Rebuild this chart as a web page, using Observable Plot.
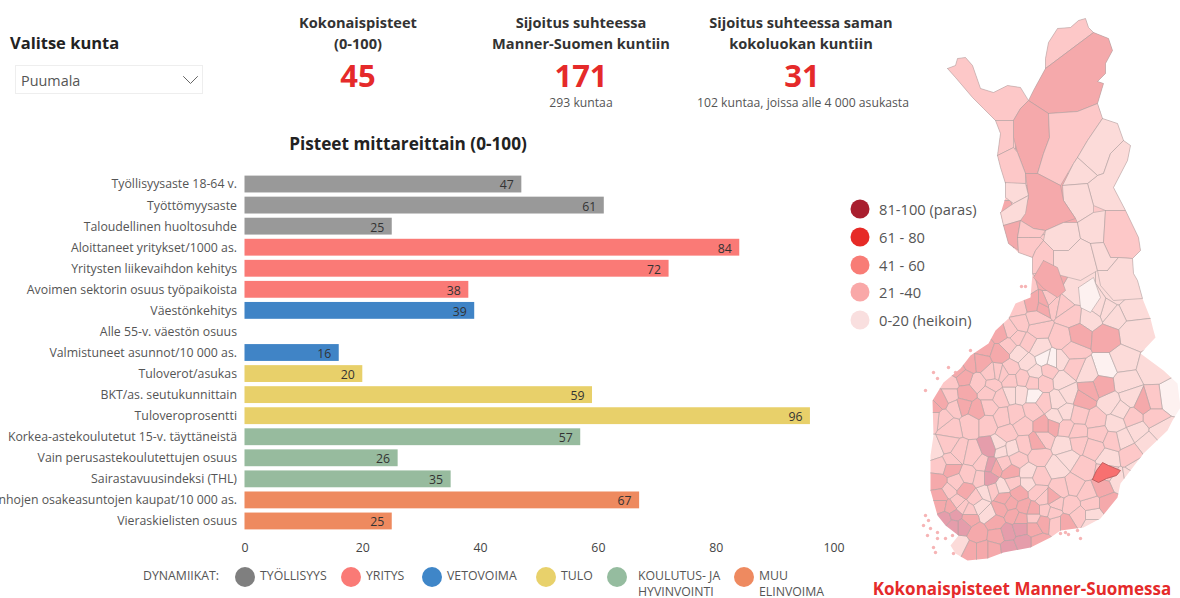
<!DOCTYPE html>
<html lang="fi">
<head>
<meta charset="utf-8">
<script src="https://cdn.jsdelivr.net/npm/d3@7"></script>
<script src="https://cdn.jsdelivr.net/npm/@observablehq/plot@0.6"></script>
<style>
html,body{margin:0;padding:0;background:#fff;}
#page{position:relative;width:1180px;height:598px;overflow:hidden;font-family:"Open Sans","Noto Sans",sans-serif;color:#333;}
#page svg{position:absolute;overflow:visible;background:transparent;}
.t{position:absolute;white-space:nowrap;line-height:1;transform:translate(-50%,-50%);}
.l{position:absolute;white-space:nowrap;line-height:1;transform:translateY(-50%);}
.kpi{font-weight:700;font-size:14.6px;color:#333;}
.val{font-weight:700;font-size:31px;color:#e52a2a;}
.sub{font-size:12.2px;color:#555;}
.dot{position:absolute;border-radius:50%;transform:translate(-50%,-50%);}
.leg{font-size:14.7px;color:#555;}
.bl{font-size:12.3px;color:#555;}
</style>
</head>
<body>
<div id="page"></div>
<script>
// ---- bar chart data
const labels = ["Työllisyysaste 18-64 v.","Työttömyysaste","Taloudellinen huoltosuhde","Aloittaneet yritykset/1000 as.","Yritysten liikevaihdon kehitys","Avoimen sektorin osuus työpaikoista","Väestönkehitys","Alle 55-v. väestön osuus","Valmistuneet asunnot/10 000 as.","Tuloverot/asukas","BKT/as. seutukunnittain","Tuloveroprosentti","Korkea-astekoulutetut 15-v. täyttäneistä","Vain perusastekoulutettujen osuus","Sairastavuusindeksi (THL)","Vanhojen osakeasuntojen kaupat/10 000 as.","Vieraskielisten osuus"];
const values = [47,61,25,84,72,38,39,null,16,20,59,96,57,26,35,67,25];
const groups = ["TYÖLLISYYS","TYÖLLISYYS","TYÖLLISYYS","YRITYS","YRITYS","YRITYS","VETOVOIMA","VETOVOIMA","VETOVOIMA","TULO","TULO","TULO","KOULUTUS","KOULUTUS","KOULUTUS","MUU","MUU"];
const groupNames = ["TYÖLLISYYS","YRITYS","VETOVOIMA","TULO","KOULUTUS","MUU"];
const groupColors = ["#999999","#fa7a76","#4084c6","#e8d06a","#97bb9e","#ee8a5f"];

// ---- map data: municipality centres on a map grid (column, row), by score band
const whitishCells = [[1052,360],[1105,367],[1168,398],[1043,358],[1033,395]];
const lightCells = [[1073,293],[1117,293],[1130,307],[1107,310],[1097,307],[1090,317],[1113,315],[1133,333],[1122,360],[1152,368],[1087,373],[1125,382],[1130,397],[1110,403],[1120,410],[1115,423],[1137,430],[1160,430],[1060,360],[1062,380],[1057,400],[1065,412],[1055,417],[1068,393],[1063,445],[1108,458],[1122,438],[1147,442],[1137,467],[1118,480],[1130,478],[1057,467],[1067,458],[1092,515],[1092,523],[1038,348],[1035,372],[1010,393],[1020,393],[1027,362],[1018,353],[1028,473],[1028,482],[1002,487],[998,445],[1000,450],[980,505],[988,513],[985,492],[935,450],[960,545],[1012,448]];
const mediumCells = [[990,97],[1053,33],[1070,145],[1004,135],[1010,165],[1031,228],[1025,245],[1035,245],[1120,235],[1043,262],[1023,287],[1050,300],[1017,307],[1053,303],[1063,305],[1070,315],[1062,338],[1072,350],[1073,367],[1153,400],[1153,417],[1132,417],[1095,420],[1078,415],[1077,432],[1097,433],[1065,427],[1130,455],[1083,468],[1078,442],[1093,447],[1113,440],[1106,472],[1090,503],[1070,505],[1087,493],[1073,485],[1060,488],[1055,503],[1078,515],[1055,523],[1052,512],[950,382],[950,395],[978,382],[990,373],[992,385],[998,372],[1017,337],[1010,330],[1020,323],[1027,342],[1008,345],[1037,328],[1035,318],[1010,368],[1002,373],[1010,380],[1022,378],[1033,382],[1000,397],[988,392],[988,407],[970,423],[950,427],[943,418],[955,407],[933,417],[987,423],[1002,417],[1015,415],[1007,433],[1022,425],[1033,410],[1043,402],[1043,382],[1048,370],[1043,438],[947,445],[950,460],[958,452],[972,455],[982,463],[1003,463],[1017,458],[1038,455],[1038,477],[1023,445],[1012,482],[1037,492],[1043,498],[940,465],[968,475],[980,478],[955,482],[975,498],[957,502],[948,490],[962,507],[968,510],[992,490],[1033,517],[1045,510]];
const darkCells = [[1080,70],[1030,140],[1050,195],[1011,235],[1050,280],[1042,305],[1033,303],[1043,303],[1078,335],[1105,337],[1083,398],[1102,385],[1088,390],[1143,403],[1052,425],[1102,487],[1108,503],[1065,523],[1052,498],[1000,333],[983,347],[1000,353],[970,363],[957,370],[980,362],[963,377],[940,400],[933,407],[965,393],[962,405],[977,410],[1043,425],[938,482],[940,495],[1037,442],[995,467],[1010,472],[1018,493],[1010,503],[1003,498],[1023,507],[1033,510],[950,468],[965,490],[940,505],[950,507],[1000,508],[995,522],[968,518],[977,533],[982,550],[970,550],[997,535],[993,550],[1033,528],[1038,542],[1043,522],[1013,515],[1020,518]];
const mauveCells = [[990,448],[990,465],[988,478],[945,518],[955,515],[962,525],[953,525],[1007,532],[1020,528],[1008,548],[1023,542]];
const bandNames = ["0-20","21-40 vaalea","21-40","41-60","41-60 tumma"];
const bandColors = ["#fdf1f0","#fcdbd9","#fdc8c8","#f5a9ab","#e59dab"];

// large northern municipalities, traced on the same grid: [band index, outline]
const utsjoki = [2,[[1045,68],[1045,58],[1048,42],[1057,28],[1070,27],[1078,20],[1085,18],[1088,27],[1093,32]]];
const inari = [3,[[1028,100],[1033,90],[1045,68],[1093,32],[1108,38],[1112,50],[1105,63],[1105,73],[1097,81],[1103,83],[1097,103],[1077,111],[1048,113]]];
const enontekio = [2,[[947,68],[955,65],[957,58],[965,57],[972,65],[980,88],[993,92],[1007,85],[1020,87],[1028,100],[1020,108],[1013,120],[995,120],[983,108],[972,97],[955,77]]];
const kittila = [3,[[1013,120],[1020,108],[1028,100],[1048,113],[1049,137],[1043,153],[1037,173],[1025,173],[1017,152],[1013,137]]];
const muonio = [2,[[995,120],[1013,120],[1013,147],[997,155],[1000,133]]];
const kolari = [2,[[997,155],[1013,147],[1017,152],[1025,173],[1025,183],[1005,183],[1000,167]]];
const sodankyla = [2,[[1048,113],[1077,111],[1097,103],[1102,118],[1087,140],[1077,157],[1073,163],[1060,185],[1037,173],[1043,153],[1049,137]]];
const savukoski = [1,[[1102,118],[1117,123],[1123,140],[1110,153],[1103,173],[1097,175],[1077,157],[1087,140]]];
const salla = [1,[[1123,140],[1130,145],[1127,160],[1113,187],[1125,210],[1105,210],[1093,205],[1087,183],[1097,175],[1103,173],[1110,153]]];
const pelkosenniemi = [1,[[1077,157],[1097,175],[1087,183],[1062,185],[1073,163]]];
const kemijarvi = [1,[[1062,185],[1087,183],[1093,205],[1093,212],[1077,222],[1075,218],[1063,200]]];
const rovaniemi = [3,[[1025,173],[1037,173],[1060,185],[1063,200],[1075,218],[1063,222],[1045,230],[1033,228],[1020,220],[1028,197]]];
const pello = [1,[[1005,182],[1025,183],[1028,195],[1013,203],[1005,197]]];
const ylitornio = [1,[[1000,212],[1013,203],[1028,195],[1025,213],[1020,220],[1003,225]]];
const tornio = [3,[[1003,225],[1020,220],[1017,237],[1018,250],[1008,243]]];
const tervola = [2,[[1020,220],[1033,228],[1045,230],[1040,237],[1028,237],[1017,237]]];
const simo = [2,[[1017,237],[1028,237],[1040,237],[1043,240],[1035,250],[1032,257],[1018,252]]];
const ranua = [1,[[1045,230],[1063,222],[1077,222],[1080,238],[1068,250],[1053,250],[1043,240]]];
const posio = [1,[[1077,222],[1093,212],[1105,210],[1103,242],[1090,243],[1080,238]]];
const kuusamo = [2,[[1105,210],[1125,210],[1138,237],[1140,250],[1132,258],[1118,257],[1110,257],[1103,242]]];
const pudasjarvi = [1,[[1053,250],[1068,250],[1080,238],[1090,243],[1097,270],[1080,280],[1053,273]]];
const taivalkoski = [1,[[1090,243],[1103,242],[1110,257],[1118,257],[1107,270],[1097,270]]];
const ii = [2,[[1043,240],[1053,250],[1053,273],[1032,273],[1032,257],[1035,250]]];
const oulu = [3,[[1043,260],[1057,267],[1065,290],[1057,297],[1043,288],[1033,277]]];
const suomussalmi = [1,[[1107,270],[1118,257],[1132,258],[1133,273],[1137,280],[1142,298],[1113,300],[1100,285],[1097,270]]];
const puolanka = [0,[[1078,287],[1093,277],[1100,297],[1090,312],[1080,307]]];
const traced = [utsjoki,inari,enontekio,kittila,muonio,kolari,sodankyla,savukoski,salla,pelkosenniemi,kemijarvi,rovaniemi,pello,ylitornio,tornio,tervola,simo,ranua,posio,kuusamo,pudasjarvi,taivalkoski,ii,oulu,suomussalmi,puolanka];

// national outline, selected municipality (Puumala) and outer islands on the same grid
const finlandOutline = [[947,68],[955,65],[957,58],[965,57],[972,65],[980,88],[993,92],[1007,85],[1020,87],[1028,102],[1033,90],[1045,68],[1045,58],[1048,42],[1057,28],[1070,27],[1078,20],[1085,18],[1088,27],[1093,32],[1108,38],[1112,50],[1105,63],[1105,73],[1097,81],[1103,83],[1097,103],[1102,118],[1117,123],[1123,140],[1130,145],[1127,160],[1113,187],[1125,210],[1138,237],[1140,250],[1132,258],[1133,273],[1137,280],[1142,298],[1150,318],[1153,330],[1155,337],[1140,353],[1163,370],[1177,383],[1180,407],[1172,420],[1167,430],[1143,453],[1120,483],[1117,497],[1100,518],[1083,527],[1060,530],[1050,537],[1030,547],[1003,552],[987,558],[967,560],[955,553],[950,545],[958,535],[945,525],[937,515],[930,490],[930,470],[930,455],[933,435],[932,400],[943,382],[960,368],[970,355],[988,343],[995,330],[1008,318],[1015,303],[1030,297],[1032,273],[1032,257],[1018,252],[1008,243],[1003,225],[1000,213],[1005,197],[1005,183],[1000,167],[997,155],[1000,133],[995,120],[983,108],[972,97],[955,77]];
const puumalaOutline = [[1092,479],[1096,470],[1102,462],[1108,465],[1120,470],[1116,475],[1106,478],[1098,482]];
const islands = [[925,515],[928,520],[923,525],[930,528],[937,532],[927,535],[937,538],[945,538],[933,547],[952,535],[935,552],[953,553],[933,372],[937,378],[948,367],[955,372],[925,390],[970,350],[1060,533],[1065,532],[1068,534],[1077,530],[1080,538],[1021,286],[1025,286]];

const dynLegend = [["DYNAMIIKAT:",143],["TYÖLLISYYS",260],["YRITYS",366],["VETOVOIMA",447],["TULO",561],["KOULUTUS- JA",638],["MUU",759]];
const dynSecond = [["HYVINVOINTI",638],["ELINVOIMA",759]];
const dynDots = [[245,"#7f7f7f"],[351,"#fa7a76"],[432,"#3f86c8"],[546,"#e8d16b"],[617,"#95bc9f"],[744,"#ee8a60"]];
const scoreLegend = [["81-100 (paras)","#a91e2e",209],["61 - 80","#e62a26",237],["41 - 60","#f87c76",265],["21 -40","#f9a8a8",292],["0-20 (heikoin)","#f9dfdf",320]];

const page = document.getElementById("page");
function add(cls, text, x, y, style){
  const d = document.createElement("div");
  d.className = cls; d.textContent = text;
  d.style.left = x+"px"; d.style.top = y+"px";
  if(style) Object.assign(d.style, style);
  page.appendChild(d); return d;
}

// header
add("l","Valitse kunta",10,43,{fontWeight:700,fontSize:"16.5px",color:"#222"});
const box = document.createElement("div");
Object.assign(box.style,{position:"absolute",left:"15px",top:"65px",width:"186px",height:"27px",border:"1px solid #eee"});
page.appendChild(box);
add("l","Puumala",21,81,{fontSize:"14.4px",color:"#555"});
add("t","Kokonaispisteet",358,22,null).classList.add("kpi");
add("t","(0-100)",358,43,null).classList.add("kpi");
add("t","45",358,75,null).classList.add("val");
add("t","Sijoitus suhteessa",581,22,null).classList.add("kpi");
add("t","Manner-Suomen kuntiin",581,43,null).classList.add("kpi");
add("t","171",581,75,null).classList.add("val");
add("t","293 kuntaa",581,103,null).classList.add("sub");
add("t","Sijoitus suhteessa saman",801,22,null).classList.add("kpi");
add("t","kokoluokan kuntiin",801,43,null).classList.add("kpi");
add("t","31",802,75,null).classList.add("val");
add("t","102 kuntaa, joissa alle 4 000 asukasta",803,103,null).classList.add("sub");
add("t","Pisteet mittareittain (0-100)",408,144,{fontWeight:700,fontSize:"17.2px",color:"#222"});

// bars
const rows = labels.map((label,i)=>({label,value:values[i],group:groups[i]}));
const present = rows.filter(d=>d.value!=null);
const barPlot = Plot.plot({
  width:860,height:400,marginLeft:244.5,marginRight:26.5,marginTop:9.5,marginBottom:32.5,
  style:{fontFamily:'"Open Sans","Noto Sans",sans-serif',fontSize:"12.3px",color:"#555",background:"transparent"},
  x:{domain:[0,100],label:null},
  y:{domain:labels,paddingInner:0.2,paddingOuter:0.1,round:false,label:null},
  color:{domain:groupNames,range:groupColors},
  marks:[
    Plot.axisX({ticks:[0,20,40,60,80,100],tickSize:0,tickPadding:11,fontSize:12.3,color:"#444",label:null,tickFormat:d=>d}),
    Plot.axisY({tickSize:0,tickPadding:8,label:null,fontSize:12.3,color:"#555"}),
    Plot.barX(present,{x1:0,x2:"value",y:"label",fill:"group"}),
    Plot.text(present,{x:"value",y:"label",text:d=>String(d.value),textAnchor:"end",dx:-8,dy:1,fill:"#333",fontSize:12.3})
  ]
});
barPlot.style.left="0px"; barPlot.style.top="164px";
page.appendChild(barPlot);

// map
const cells = [whitishCells,lightCells,mediumCells,darkCells,mauveCells].flatMap((list,b)=>list.map(([col,row])=>({col,row,band:bandNames[b]})));
const islandRows = islands.map(([col,row])=>({col,row}));
const outlineRows = finlandOutline.map(([col,row])=>({col,row}));
const puumalaRows = [...puumalaOutline,puumalaOutline[0]].map(([col,row])=>({col,row}));
const tracedRows = traced.flatMap(([b,ring],id)=>[...ring,ring[0]].map(([col,row])=>({col,row,id,band:bandNames[b]})));
const mapPlot = Plot.plot({
  width:280,height:598,margin:0,
  style:{background:"transparent"},
  x:{domain:[900,1180],range:[0,280],axis:null},
  y:{domain:[0,598],range:[0,598],axis:null},
  color:{domain:bandNames,range:bandColors},
  marks:[
    Plot.dot(islandRows,{x:"col",y:"row",r:1.7,fill:"#f6b4b5"}),
    Plot.voronoi(cells,{
      x:"col",y:"row",fill:"band",stroke:"#ad9f9f",strokeWidth:0.8,strokeOpacity:0.7,
      render(index,scales,values,dimensions,context,next){
        const g = next(index,scales,values,dimensions,context);
        const id = "finland-clip";
        const ns = "http://www.w3.org/2000/svg";
        const cp = document.createElementNS(ns,"clipPath"); cp.setAttribute("id",id);
        const p = document.createElementNS(ns,"path");
        p.setAttribute("d","M"+outlineRows.map(d=>scales.x(d.col)+","+scales.y(d.row)).join("L")+"Z");
        cp.appendChild(p); g.appendChild(cp);
        g.setAttribute("clip-path","url(#"+id+")");
        return g;
      }
    }),
    Plot.line(tracedRows,{x:"col",y:"row",z:"id",fill:"band",stroke:"#ad9f9f",strokeWidth:0.8,strokeOpacity:0.7}),
    Plot.line(puumalaRows,{x:"col",y:"row",fill:"#f87070",stroke:"#b85a5a",strokeWidth:0.9})
  ]
});
mapPlot.style.left="900px"; mapPlot.style.top="0px";
page.appendChild(mapPlot);

// chevron of the dropdown
const chevron = Plot.plot({width:14,height:9,margin:0,style:{background:"transparent"},x:{domain:[0,2],axis:null},y:{domain:[0,1],range:[1,8],axis:null},
  marks:[Plot.line([[0,0],[1,1],[2,0]],{x:d=>d[0],y:d=>d[1],stroke:"#666",strokeWidth:1})]});
chevron.style.left="183px"; chevron.style.top="75px";
page.appendChild(chevron);

// score legend
scoreLegend.forEach(([text,color,y])=>{
  add("dot","",860,y,{width:"19px",height:"19px",background:color});
  add("l",text,879,y,null).classList.add("leg");
});

// dynamics legend
dynDots.forEach(([x,color])=>add("dot","",x,577,{width:"20px",height:"20px",background:color}));
dynLegend.forEach(([text,x])=>add("l",text,x,576,null).classList.add("bl"));
dynSecond.forEach(([text,x])=>add("l",text,x,592,null).classList.add("bl"));

add("t","Kokonaispisteet Manner-Suomessa",1022,588,{fontWeight:700,fontSize:"17px",color:"#e52a2a"});
</script>
</body>
</html>
